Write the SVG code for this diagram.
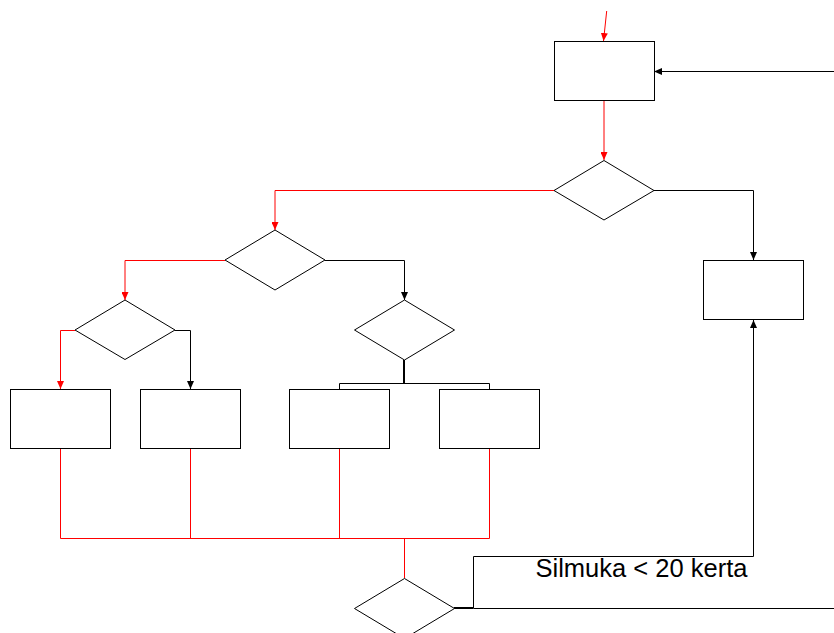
<svg xmlns="http://www.w3.org/2000/svg" width="834" height="633" viewBox="0 0 834 633">
  <style>
    .box { fill: #ffffff; stroke: #000000; stroke-width: 1; }
    .red { fill: none; stroke: #ff0000; stroke-width: 1; }
    .blk { fill: none; stroke: #000000; stroke-width: 1; }
    .label { font-family: "Liberation Sans", Arial, sans-serif; font-size: 25.5px; fill: #000000; }
  </style>
  <defs>
    <marker id="arrRed" markerUnits="userSpaceOnUse" markerWidth="8" markerHeight="7" refX="8" refY="3.5" orient="auto">
      <path d="M0,0 L8,3.5 L0,7 z" fill="#ff0000"/>
    </marker>
    <marker id="arrBlk" markerUnits="userSpaceOnUse" markerWidth="8" markerHeight="7" refX="8" refY="3.5" orient="auto">
      <path d="M0,0 L8,3.5 L0,7 z" fill="#000000"/>
    </marker>
  </defs>

  <rect width="834" height="633" fill="#ffffff"/>

  <g id="connectors">
    <!-- entry and main flow -->
    <line class="red" x1="606.7" y1="11" x2="603.5" y2="41" marker-end="url(#arrRed)"/>
    <line class="red" x1="604" y1="101" x2="604" y2="160" marker-end="url(#arrRed)"/>
    <polyline class="red" points="554,190.5 275,190.5 275,230" marker-end="url(#arrRed)"/>
    <polyline class="blk" points="654,190.5 753.5,190.5 753.5,260" marker-end="url(#arrBlk)"/>
    <polyline class="red" points="225,260.5 125,260.5 125,300" marker-end="url(#arrRed)"/>
    <polyline class="blk" points="325,260.5 404.5,260.5 404.5,300" marker-end="url(#arrBlk)"/>
    <polyline class="red" points="75,330.5 60.5,330.5 60.5,389" marker-end="url(#arrRed)"/>
    <polyline class="blk" points="175,330.5 190.5,330.5 190.5,389" marker-end="url(#arrBlk)"/>
    <!-- fork below the right decision -->
    <line x1="404" y1="360" x2="404" y2="383.5" stroke="#000000" stroke-width="2"/>
    <polyline class="blk" points="339.5,389 339.5,383.5 489.5,383.5 489.5,389"/>
    <!-- merge of the four boxes -->
    <polyline class="red" points="60.5,449 60.5,538.5 489.5,538.5 489.5,449"/>
    <line class="red" x1="190.5" y1="449" x2="190.5" y2="538.5"/>
    <line class="red" x1="339.5" y1="449" x2="339.5" y2="538.5"/>
    <line class="red" x1="404.5" y1="538.5" x2="404.5" y2="578"/>
    <!-- loop back -->
    <line x1="454" y1="608" x2="473.5" y2="608" stroke="#000000" stroke-width="2"/>
    <line class="blk" x1="473.5" y1="608.5" x2="834" y2="608.5"/>
    <polyline class="blk" points="473.5,608 473.5,556.5 753.5,556.5 753.5,320" marker-end="url(#arrBlk)"/>
    <line class="blk" x1="834" y1="71.5" x2="654" y2="71.5" marker-end="url(#arrBlk)"/>
  </g>

  <g id="start-box"><rect class="box" x="554.5" y="41.5" width="100" height="59"/></g>
  <g id="decision-main"><polygon class="box" points="604,160.5 654,190.5 604,220 554,190.5"/></g>
  <g id="right-box"><rect class="box" x="703.5" y="260.5" width="100" height="59"/></g>
  <g id="decision-left"><polygon class="box" points="275,230 325,260 275,290 225,260"/></g>
  <g id="decision-right"><polygon class="box" points="404.5,300 454.5,330 404.5,360 354.5,330"/></g>
  <g id="decision-left-left"><polygon class="box" points="125,300 175,330 125,359.5 75,330"/></g>
  <g id="box-1"><rect class="box" x="10.5" y="389.5" width="100" height="59"/></g>
  <g id="box-2"><rect class="box" x="140.5" y="389.5" width="100" height="59"/></g>
  <g id="box-3"><rect class="box" x="289.5" y="389.5" width="100" height="59"/></g>
  <g id="box-4"><rect class="box" x="439.5" y="389.5" width="100" height="59"/></g>
  <g id="decision-loop"><polygon class="box" points="404.5,578.5 454.5,608.5 404.5,638.5 354.5,608.5"/></g>

  <text class="label" x="535.5" y="576.5">Silmuka &lt; 20 kerta</text>
</svg>
